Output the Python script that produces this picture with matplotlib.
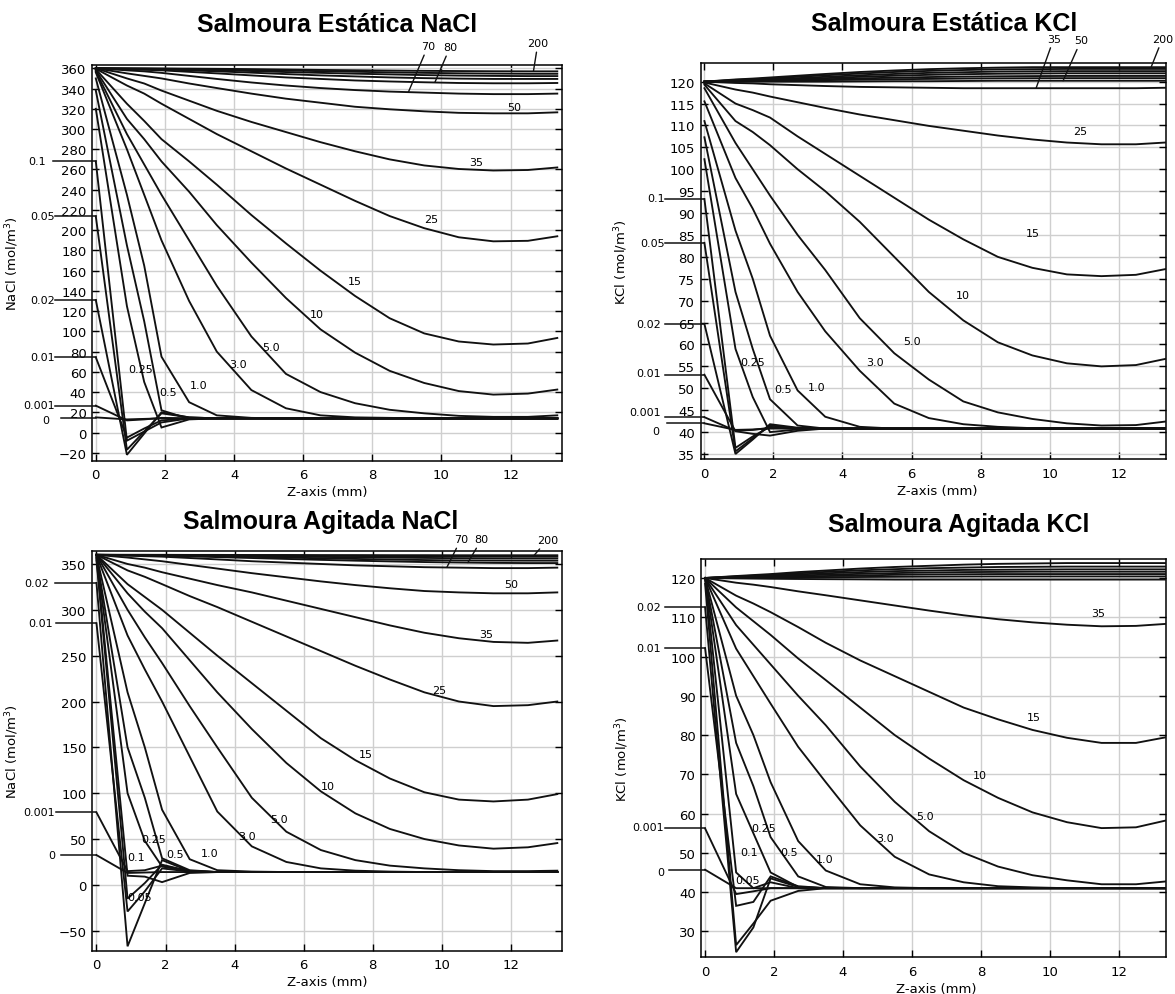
import matplotlib
matplotlib.use("Agg")
import matplotlib.pyplot as plt

plt.rcParams['font.family'] = ['DejaVu Sans']
plt.rcParams['mathtext.fontset'] = 'dejavusans'

# ---------------- DATA ----------------
# Z positions (mm) of the profile nodes
z_mm = [0, 0.9, 1.4, 1.9, 2.7, 3.5, 4.5, 5.5, 6.5, 7.5, 8.5, 9.5, 10.5, 11.5, 12.5, 13.35]

# Salmoura Estatica NaCl  (mol/m3), one row per time
nacl_est_times = ["0", "0.001", "0.01", "0.02", "0.05", "0.1", "0.25", "0.5", "1.0", "3.0", "5.0",
                  "10", "15", "25", "35", "50", "70", "80", "100", "120", "150", "200"]
nacl_est = [
    [15, 13, 13.5, 14, 14, 14, 14, 14, 14, 14, 14, 14, 14, 14, 14, 14],
    [26.6, 12, 13, 14.5, 14, 14, 14, 14, 14, 14, 14, 14, 14, 14, 14, 14],
    [74.3, -5, 4, 12, 14, 14, 14, 14, 14, 14, 14, 14, 14, 14, 14, 14],
    [131, -22, -1, 20, 15, 14, 14, 14, 14, 14, 14, 14, 14, 14, 14, 14],
    [213.7, -17, 1, 19, 15, 14, 14, 14, 14, 14, 14, 14, 14, 14, 14, 14],
    [268, -8, 1, 10, 14, 14, 14, 14, 14, 14, 14, 14, 14, 14, 14, 14],
    [320, 125, 50, 5, 13, 14, 14, 14, 14, 14, 14, 14, 14, 14, 14, 14],
    [338, 185, 110, 22, 13.5, 14, 14, 14, 14, 14, 14, 14, 14, 14, 14, 14],
    [350, 235, 165, 75, 30, 17, 14.5, 14, 14, 14, 14, 14, 14, 14, 14, 14],
    [356, 280, 235, 190, 130, 80, 42, 24, 17, 15, 14.5, 14, 14, 14, 14, 14],
    [357, 295, 265, 235, 190, 145, 95, 58, 40, 29, 22.5, 19, 16.5, 15.5, 15.5, 17],
    [358, 310, 290, 268, 238, 205, 168, 133, 102, 79, 61, 49, 41, 37.5, 38.5, 42.5],
    [359, 325, 308, 290, 268, 245, 215, 187, 160, 135, 113, 98, 90, 87, 88, 93.5],
    [359.5, 343, 335, 325, 310, 295, 278, 261, 245, 229, 214, 202, 193, 189, 189.5, 194],
    [360, 350, 345, 338, 328, 318, 307, 297, 287, 278, 270, 264, 260.5, 259, 259.5, 262],
    [360, 355, 352.5, 350, 345, 340.5, 335, 330, 326, 322, 319.5, 317.5, 316, 315.5, 315.5, 316.5],
    [360, 358, 357, 355.5, 352.5, 349.5, 346, 343, 340.5, 338.5, 337, 336, 335, 334.5, 334.5, 335],
    [360, 359, 358.5, 358, 356.5, 355, 353, 351, 349.5, 348, 347, 346.2, 345.5, 345.2, 345.2, 345.5],
    [360, 359.5, 359.2, 359, 358, 357, 355.7, 354.3, 353, 352, 351, 350.3, 349.8, 349.5, 349.5, 349.5],
    [360, 359.7, 359.5, 359.3, 358.8, 358.2, 357.3, 356.3, 355.5, 354.7, 354, 353.3, 352.8, 352.5, 352.3, 352.3],
    [360, 359.8, 359.7, 359.6, 359.3, 358.9, 358.4, 357.8, 357.2, 356.6, 356, 355.5, 355.1, 354.8, 354.6, 354.6],
    [360, 359.9, 359.9, 359.8, 359.7, 359.5, 359.2, 358.8, 358.4, 358.1, 357.8, 357.5, 357.3, 357.1, 357, 357],
]

# Salmoura Estatica KCl
kcl_est_times = ["0", "0.001", "0.01", "0.02", "0.05", "0.1", "0.25", "0.5", "1.0", "3.0", "5.0",
                 "10", "15", "25", "35", "50", "70", "80", "100", "120", "150", "200"]
kcl_est = [
    [42.0, 40.5, 40.6, 40.8, 40.8, 40.8, 40.8, 40.8, 40.8, 40.8, 40.8, 40.8, 40.8, 40.8, 40.8, 40.8],
    [43.4, 40.3, 40.5, 41, 40.8, 40.8, 40.8, 40.8, 40.8, 40.8, 40.8, 40.8, 40.8, 40.8, 40.8, 40.8],
    [53.1, 40.2, 39.6, 39.2, 40.3, 40.8, 40.8, 40.8, 40.8, 40.8, 40.8, 40.8, 40.8, 40.8, 40.8, 40.8],
    [64.7, 35, 38.3, 41.8, 41, 40.8, 40.8, 40.8, 40.8, 40.8, 40.8, 40.8, 40.8, 40.8, 40.8, 40.8],
    [83.2, 35.6, 38.6, 41.5, 40.9, 40.8, 40.8, 40.8, 40.8, 40.8, 40.8, 40.8, 40.8, 40.8, 40.8, 40.8],
    [93.2, 36.4, 39, 41.2, 40.8, 40.8, 40.8, 40.8, 40.8, 40.8, 40.8, 40.8, 40.8, 40.8, 40.8, 40.8],
    [102.3, 59, 48, 40, 40.6, 40.8, 40.8, 40.8, 40.8, 40.8, 40.8, 40.8, 40.8, 40.8, 40.8, 40.8],
    [107.3, 72, 59, 47.5, 41.5, 40.8, 40.8, 40.8, 40.8, 40.8, 40.8, 40.8, 40.8, 40.8, 40.8, 40.8],
    [111, 86, 75, 62, 49.5, 43.5, 41.2, 40.8, 40.8, 40.8, 40.8, 40.8, 40.8, 40.8, 40.8, 40.8],
    [115.5, 98, 91, 83, 72, 63, 54, 46.5, 43.2, 41.8, 41.2, 40.9, 40.8, 40.8, 40.8, 40.8],
    [118.5, 106, 100, 94, 85, 77, 66, 58, 52, 47, 44.5, 43, 42, 41.5, 41.6, 42.4],
    [119.3, 111, 108.5, 105.5, 100, 95, 88, 80, 72, 65.5, 60.5, 57.5, 55.7, 55, 55.3, 56.7],
    [119.6, 115, 113.5, 111.8, 107.5, 103.5, 98.5, 93.5, 88.5, 84, 80, 77.5, 76, 75.6, 75.9, 77.2],
    [119.8, 118.2, 117.5, 116.6, 115.3, 114, 112.5, 111.2, 109.9, 108.8, 107.7, 106.8, 106.1, 105.7, 105.7, 106.1],
    [120, 119.7, 119.6, 119.4, 119.2, 119, 118.8, 118.7, 118.6, 118.5, 118.5, 118.5, 118.5, 118.5, 118.5, 118.6],
    [120, 120, 120, 120, 120, 120, 120.05, 120.1, 120.1, 120.15, 120.2, 120.2, 120.2, 120.2, 120.2, 120.2],
    [120, 120.05, 120.1, 120.15, 120.25, 120.35, 120.45, 120.55, 120.62, 120.7, 120.75, 120.78, 120.8, 120.8, 120.8, 120.8],
    [120, 120.1, 120.15, 120.25, 120.4, 120.55, 120.75, 120.9, 121.05, 121.15, 121.22, 121.27, 121.3, 121.3, 121.3, 121.3],
    [120, 120.2, 120.3, 120.4, 120.6, 120.8, 121.1, 121.35, 121.55, 121.7, 121.8, 121.85, 121.9, 121.9, 121.9, 121.9],
    [120, 120.3, 120.4, 120.55, 120.8, 121.1, 121.45, 121.75, 122.0, 122.15, 122.3, 122.35, 122.4, 122.4, 122.4, 122.4],
    [120, 120.4, 120.55, 120.75, 121.1, 121.45, 121.85, 122.2, 122.45, 122.65, 122.8, 122.85, 122.9, 122.9, 122.9, 122.9],
    [120, 120.5, 120.7, 120.95, 121.35, 121.75, 122.2, 122.55, 122.85, 123.05, 123.2, 123.3, 123.3, 123.3, 123.3, 123.3],
]

# Salmoura Agitada NaCl
nacl_agi_times = ["0", "0.001", "0.01", "0.02", "0.05", "0.1", "0.25", "0.5", "1.0", "3.0", "5.0",
                  "10", "15", "25", "35", "50", "70", "80", "100", "120", "150", "200"]
nacl_agi = [
    [32.5, 13, 13.5, 14, 14, 14, 14, 14, 14, 14, 14, 14, 14, 14, 14, 14],
    [79, 15, 16, 21, 15, 14, 14, 14, 14, 14, 14, 14, 14, 14, 14, 14],
    [285.3, -29, -7, 18, 14.5, 14, 14, 14, 14, 14, 14, 14, 14, 14, 14, 14],
    [329.3, -67, -20, 27, 15, 14, 14, 14, 14, 14, 14, 14, 14, 14, 14, 14],
    [354, -15, 2, 22, 15, 14, 14, 14, 14, 14, 14, 14, 14, 14, 14, 14],
    [356, 10, 9, 3, 13, 14, 14, 14, 14, 14, 14, 14, 14, 14, 14, 14],
    [357, 100, 48, 20, 14.5, 14, 14, 14, 14, 14, 14, 14, 14, 14, 14, 14],
    [358, 150, 95, 29, 16, 14, 14, 14, 14, 14, 14, 14, 14, 14, 14, 14],
    [359, 210, 150, 82, 28, 16, 14.5, 14, 14, 14, 14, 14, 14, 14, 14, 14],
    [359.5, 272, 235, 200, 140, 80, 42, 25, 18, 15.5, 14.5, 14, 14, 14, 14, 14],
    [360, 300, 270, 242, 195, 150, 95, 58, 38, 27, 21, 18, 16, 15, 15, 15.5],
    [360, 318, 298, 280, 245, 210, 170, 133, 102, 78, 61, 50, 43, 39.5, 41, 45.6],
    [360, 328, 314, 300, 275, 250, 220, 190, 160, 136, 116, 101, 93, 91, 93, 99],
    [360, 343, 336, 328, 315, 303, 287, 271, 255, 239, 224, 210, 200, 195, 196, 200],
    [360, 350, 346, 341, 334, 327, 319, 310, 301, 292, 283, 275, 269, 265, 264, 266.5],
    [360, 357, 355, 353, 349, 345, 340, 335.5, 331, 327, 323.5, 320.5, 319, 318, 318, 319],
    [360, 359, 358.5, 358, 356.5, 355, 353, 351.5, 350, 348.5, 347.5, 346.5, 346, 345.5, 345.5, 346],
    [360, 359.5, 359.3, 359, 358.3, 357.5, 356.5, 355.5, 354.5, 353.6, 352.8, 352.1, 351.6, 351.2, 351, 351],
    [360, 359.7, 359.6, 359.4, 359, 358.5, 357.8, 357, 356.2, 355.5, 354.8, 354.3, 353.9, 353.7, 353.6, 353.6],
    [360, 359.8, 359.7, 359.6, 359.4, 359.1, 358.7, 358.2, 357.7, 357.3, 356.9, 356.6, 356.3, 356.1, 356, 356],
    [360, 359.9, 359.9, 359.8, 359.7, 359.6, 359.4, 359.2, 358.9, 358.7, 358.5, 358.3, 358.2, 358.1, 358, 358],
    [360, 360, 360, 360, 359.9, 359.9, 359.8, 359.8, 359.7, 359.7, 359.6, 359.6, 359.5, 359.5, 359.5, 359.5],
]

# Salmoura Agitada KCl
kcl_agi_times = ["0", "0.001", "0.01", "0.02", "0.05", "0.1", "0.25", "0.5", "1.0", "3.0", "5.0",
                 "10", "15", "35", "50", "70", "80", "100", "120", "150", "200"]
kcl_agi = [
    [45.7, 41, 41, 41, 41, 41, 41, 41, 41, 41, 41, 41, 41, 41, 41, 41],
    [56.2, 39.5, 40.2, 41, 41, 41, 41, 41, 41, 41, 41, 41, 41, 41, 41, 41],
    [102.1, 36.5, 37.5, 44, 41.5, 41, 41, 41, 41, 41, 41, 41, 41, 41, 41, 41],
    [112.5, 24.7, 31, 43.5, 41.3, 41, 41, 41, 41, 41, 41, 41, 41, 41, 41, 41],
    [118.5, 26.5, 32, 37.8, 40.3, 41, 41, 41, 41, 41, 41, 41, 41, 41, 41, 41],
    [119.7, 45, 41, 42.5, 41, 41, 41, 41, 41, 41, 41, 41, 41, 41, 41, 41],
    [120, 65, 55, 45, 41.3, 41, 41, 41, 41, 41, 41, 41, 41, 41, 41, 41],
    [120, 78, 67, 54, 44, 41.3, 41, 41, 41, 41, 41, 41, 41, 41, 41, 41],
    [120, 90, 80, 68, 53, 45.5, 42, 41.2, 41, 41, 41, 41, 41, 41, 41, 41],
    [120, 102, 95, 88, 77, 68, 57, 49, 44.5, 42.5, 41.5, 41.2, 41, 41, 41, 41],
    [120, 108, 103, 98, 90, 82.5, 72, 63, 55.5, 50, 46.5, 44.3, 43, 42, 42, 42.7],
    [120, 112.5, 109, 105.5, 99.5, 94, 87, 80, 74, 68.5, 64, 60.3, 57.8, 56.3, 56.5, 58.2],
    [120, 115.5, 113.5, 111.3, 107.5, 103.5, 99, 95, 91, 87, 84, 81.3, 79.3, 78, 78, 79.4],
    [120, 118.8, 118.3, 117.7, 116.6, 115.6, 114.3, 113, 111.7, 110.5, 109.5, 108.7, 108.1, 107.7, 107.8, 108.3],
    [120, 119.9, 119.85, 119.8, 119.75, 119.7, 119.65, 119.6, 119.6, 119.6, 119.6, 119.6, 119.6, 119.6, 119.6, 119.6],
    [120, 120.05, 120.08, 120.1, 120.15, 120.2, 120.25, 120.3, 120.35, 120.38, 120.4, 120.4, 120.4, 120.4, 120.4, 120.4],
    [120, 120.1, 120.15, 120.2, 120.35, 120.5, 120.65, 120.8, 120.9, 120.95, 121, 121, 121, 121, 121, 121],
    [120, 120.2, 120.3, 120.4, 120.6, 120.85, 121.05, 121.25, 121.4, 121.5, 121.55, 121.6, 121.6, 121.6, 121.6, 121.6],
    [120, 120.3, 120.45, 120.6, 120.9, 121.2, 121.5, 121.75, 121.9, 122.05, 122.1, 122.15, 122.2, 122.2, 122.2, 122.2],
    [120, 120.4, 120.6, 120.8, 121.2, 121.55, 121.95, 122.25, 122.5, 122.65, 122.8, 122.85, 122.9, 122.9, 122.9, 122.9],
    [120, 120.5, 120.75, 121.0, 121.5, 121.9, 122.4, 122.8, 123.1, 123.4, 123.6, 123.7, 123.8, 123.8, 123.8, 123.8],
]

# Left-side start-value labels (time, value at z = 0)
nacl_est_lead_txt = ["0.1", "0.05", "0.02", "0.01", "0.001", "0"]
nacl_est_lead_val = [268.1, 213.7, 131, 74.3, 26.6, 14]
kcl_est_lead_txt = ["0.1", "0.05", "0.02", "0.01", "0.001", "0"]
kcl_est_lead_val = [93.2, 83.2, 64.7, 53.1, 43.4, 42.0]
nacl_agi_lead_txt = ["0.02", "0.01", "0.001", "0"]
nacl_agi_lead_val = [329.3, 285.3, 79.1, 32.5]
kcl_agi_lead_txt = ["0.02", "0.01", "0.001", "0"]
kcl_agi_lead_val = [112.5, 102.1, 56.2, 45.7]

# In-plot curve labels: text, z, value
nacl_est_lbl = ["50", "35", "25", "15", "10", "5.0", "3.0", "1.0", "0.5", "0.25"]
nacl_est_lbl_x = [12.1, 11.0, 9.7, 7.5, 6.4, 5.06, 4.1, 2.98, 2.1, 1.3]
nacl_est_lbl_y = [322, 267, 211, 150, 117, 85, 68, 47, 40, 63]
kcl_est_lbl = ["25", "15", "10", "5.0", "3.0", "1.0", "0.5", "0.25"]
kcl_est_lbl_x = [10.9, 9.5, 7.5, 6.0, 4.94, 3.26, 2.28, 1.41]
kcl_est_lbl_y = [108.7, 85.4, 71.3, 60.7, 56.0, 50.2, 49.8, 56.0]
nacl_agi_lbl = ["50", "35", "25", "15", "10", "5.0", "3.0", "1.0", "0.5", "0.25", "0.1", "0.05"]
nacl_agi_lbl_x = [12.0, 11.3, 9.93, 7.8, 6.7, 5.3, 4.36, 3.27, 2.28, 1.65, 1.15, 1.26]
nacl_agi_lbl_y = [328, 273.6, 213, 142.7, 108, 72, 53.6, 34.7, 33.3, 50, 30.7, -13.6]
kcl_agi_lbl = ["35", "15", "10", "5.0", "3.0", "1.0", "0.5", "0.25", "0.1", "0.05"]
kcl_agi_lbl_x = [11.4, 9.55, 7.98, 6.38, 5.23, 3.46, 2.43, 1.7, 1.28, 1.23]
kcl_agi_lbl_y = [111, 84.5, 69.9, 59.3, 53.8, 48.4, 50.1, 56.2, 50.1, 43.1]

# Callout labels above the plots: text, text position, pointed curve position
nacl_est_call = ["70", "80", "200"]
nacl_est_call_txt = [(9.61, 382.0), (10.25, 381.0), (12.79, 385.0)]
nacl_est_call_pt = [(9.04, 336.3), (9.81, 346.2), (12.66, 357.0)]
kcl_est_call = ["35", "50", "200"]
kcl_est_call_txt = [(10.12, 129.8), (10.91, 129.4), (13.27, 129.8)]
kcl_est_call_pt = [(9.61, 118.55), (10.39, 120.2), (12.94, 123.3)]
nacl_agi_call = ["70", "80", "200"]
nacl_agi_call_txt = [(10.56, 377.0), (11.16, 377.0), (13.06, 376.0)]
nacl_agi_call_pt = [(10.15, 346.3), (10.76, 351.5), (12.68, 359.5)]

# ---------------- FIGURE ----------------
fig = plt.figure(figsize=(11.75, 9.95), dpi=100)

panels = [
    dict(title="Salmoura Estática NaCl", ylabel="NaCl (mol/m$^3$)",
         rect=[0.0783, 0.5360, 0.4004, 0.398], xlim=(-0.11, 13.5), ylim=(-27.8, 363.6),
         yticks=list(range(-20, 361, 20)), tpos=(0.521, 1.103), xlab_x=0.5,
         rows=nacl_est,
         lead=(nacl_est_lead_txt, nacl_est_lead_val),
         lead_txt_y=[268.1, 213.7, 131, 74.3, 27.5, 12.5],
         lead_txt_x=[-0.0988, -0.0786, -0.0786, -0.0786, -0.0786, -0.0914],
         lead_line_x=[-0.0829, -0.0786, -0.0786, -0.0786, -0.0786, -0.0667],
         lbl=(nacl_est_lbl, nacl_est_lbl_x, nacl_est_lbl_y),
         call=(nacl_est_call, nacl_est_call_txt, nacl_est_call_pt)),
    dict(title="Salmoura Estática KCl", ylabel="KCl (mol/m$^3$)",
         rect=[0.5963, 0.5377, 0.3957, 0.398], xlim=(-0.109, 13.36), ylim=(33.86, 124.26),
         yticks=list(range(35, 121, 5)), tpos=(0.523, 1.100), xlab_x=0.508,
         rows=kcl_est,
         lead=(kcl_est_lead_txt, kcl_est_lead_val),
         lead_txt_y=[93.5, 83.2, 64.7, 53.6, 44.7, 40.3],
         lead_txt_x=[-0.0766, -0.0766, -0.085, -0.085, -0.085, -0.0895],
         lead_line_x=[-0.0766, -0.0766, -0.0766, -0.0766, -0.0766, -0.0723],
         lbl=(kcl_est_lbl, kcl_est_lbl_x, kcl_est_lbl_y),
         call=(kcl_est_call, kcl_est_call_txt, kcl_est_call_pt)),
    dict(title="Salmoura Agitada NaCl", ylabel="NaCl (mol/m$^3$)",
         rect=[0.0783, 0.0435, 0.4004, 0.4014], xlim=(-0.13, 13.5), ylim=(-71.8, 363.8),
         yticks=list(range(-50, 351, 50)), tpos=(0.485, 1.077), xlab_x=0.501,
         rows=nacl_agi,
         lead=(nacl_agi_lead_txt, nacl_agi_lead_val),
         lead_txt_y=[329.3, 285.3, 79.1, 32.5],
         lead_txt_x=[-0.0914, -0.083, -0.0786, -0.0786],
         lead_line_x=[-0.0786, -0.0765, -0.0765, -0.0667],
         lbl=(nacl_agi_lbl, nacl_agi_lbl_x, nacl_agi_lbl_y),
         call=(nacl_agi_call, nacl_agi_call_txt, nacl_agi_call_pt)),
    dict(title="Salmoura Agitada KCl", ylabel="KCl (mol/m$^3$)",
         rect=[0.5969, 0.0369, 0.3957, 0.4003], xlim=(-0.109, 13.38), ylim=(23.4, 124.84),
         yticks=list(range(30, 121, 10)), tpos=(0.554, 1.088), xlab_x=0.506,
         rows=kcl_agi,
         lead=(kcl_agi_lead_txt, kcl_agi_lead_val),
         lead_txt_y=[112.5, 102.1, 56.5, 45.2],
         lead_txt_x=[-0.087, -0.087, -0.0805, -0.0805],
         lead_line_x=[-0.0783, -0.0783, -0.0783, -0.0703],
         lbl=(kcl_agi_lbl, kcl_agi_lbl_x, kcl_agi_lbl_y),
         call=None),
]

for p in panels:
    ax = fig.add_axes(p["rect"])
    for row in p["rows"]:
        ax.plot(z_mm, row, color="#111111", lw=1.35, solid_joinstyle="miter", zorder=3)
    ax.set_xlim(*p["xlim"])
    ax.set_ylim(*p["ylim"])
    ax.set_xticks([0, 2, 4, 6, 8, 10, 12])
    ax.set_yticks(p["yticks"])
    ax.grid(True, color="#cfcfcf", lw=1.0, zorder=0)
    ax.set_axisbelow(True)
    ax.tick_params(direction="in", length=5, width=1.0, top=True, right=True,
                   labelsize=9.5, colors="black")
    ax.tick_params(axis="x", pad=5.5)
    ax.tick_params(axis="y", pad=4)
    for s in ax.spines.values():
        s.set_linewidth(1.1)
    ax.set_xlabel("Z-axis (mm)", fontsize=9.5)
    ax.xaxis.set_label_coords(p["xlab_x"], -0.062)
    ax.set_ylabel(p["ylabel"], fontsize=9.5)
    ax.yaxis.set_label_coords(-0.151, 0.5)
    ax.text(p["tpos"][0], p["tpos"][1], p["title"], transform=ax.transAxes,
            ha="center", va="center", fontsize=18, fontweight="bold",
            family="Liberation Sans")

    # leader labels for the starting values at z = 0
    xmin, xmax = p["xlim"]
    x0_ax = (0 - xmin) / (xmax - xmin)
    ymin, ymax = p["ylim"]
    for txt, val, ty, tx, lx in zip(p["lead"][0], p["lead"][1], p["lead_txt_y"],
                                    p["lead_txt_x"], p["lead_line_x"]):
        yy = (val - ymin) / (ymax - ymin)
        ty_ax = (ty - ymin) / (ymax - ymin)
        ax.plot([lx, x0_ax], [yy, yy], transform=ax.transAxes, color="#111111",
                lw=1.1, clip_on=False, zorder=4)
        ax.text(tx, ty_ax, txt, transform=ax.transAxes, ha="right", va="center",
                fontsize=8)

    # curve labels
    for txt, lx, ly in zip(*p["lbl"]):
        ax.text(lx, ly, txt, ha="center", va="center", fontsize=8, zorder=5)

    # callouts above the plot
    if p["call"] is not None:
        for txt, tpos, pt in zip(*p["call"]):
            ax.annotate(txt, xy=pt, xytext=tpos, textcoords="data", ha="center",
                        va="center", fontsize=8, annotation_clip=False,
                        arrowprops=dict(arrowstyle="-", color="#111111", lw=1.0,
                                        shrinkA=1, shrinkB=0))

fig.savefig("out.png", dpi=100)
